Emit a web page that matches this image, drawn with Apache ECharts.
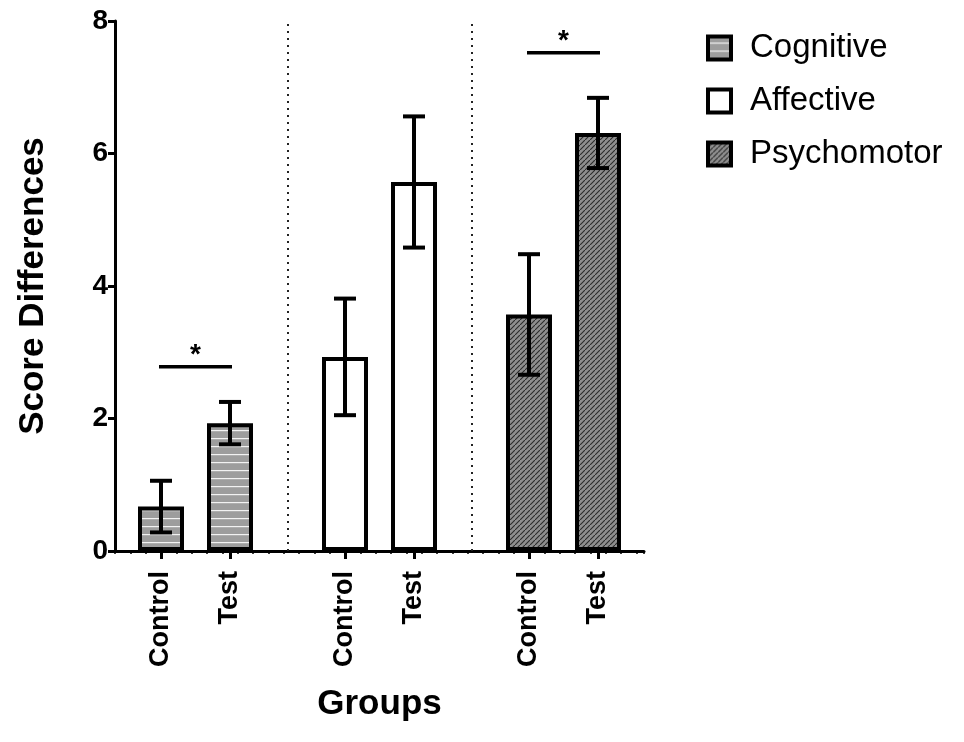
<!DOCTYPE html>
<html>
<head>
<meta charset="utf-8">
<script src="https://cdn.jsdelivr.net/npm/echarts@6/dist/echarts.min.js"></script>
<style>
html,body{margin:0;padding:0;background:#fff;}
#chart{width:964px;height:742px;}
</style>
</head>
<body>
<div id="chart"></div>
<script>
// ---- data ----
const groupLabels = ['Control', 'Test', 'Control', 'Test', 'Control', 'Test'];
const seriesNames = ['Cognitive', 'Affective', 'Psychomotor'];
const cognitiveMean = [0.67, 1.93];
const cognitiveErr = [0.39, 0.32];
const affectiveMean = [2.93, 5.57];
const affectiveErr = [0.88, 0.99];
const psychomotorMean = [3.57, 6.31];
const psychomotorErr = [0.91, 0.53];
const sigLevels = [2.78, 7.52]; // Cognitive, Psychomotor significance bars
const yTicks = [0, 2, 4, 6, 8];

// ---- layout (slot positions on the x scale) ----
const slots = [2, 5, 10, 13, 18, 21];
const separators = [7.5, 15.5];
const FONT = 'Liberation Sans, Arial, Helvetica, sans-serif';

function makeHStripe() {
  const c = document.createElement('canvas');
  c.width = 8; c.height = 8;
  const g = c.getContext('2d');
  g.fillStyle = '#9d9d9d'; g.fillRect(0, 0, 8, 8);
  g.fillStyle = '#f2f2f2'; g.fillRect(0, 6, 8, 1.2);
  return c;
}
function makeDiag() {
  const s = 5;
  const c = document.createElement('canvas');
  c.width = s; c.height = s;
  const g = c.getContext('2d');
  g.fillStyle = '#8e8e8e'; g.fillRect(0, 0, s, s);
  g.strokeStyle = '#2b2b2b'; g.lineWidth = 1.1;
  g.beginPath();
  g.moveTo(-1, s + 1); g.lineTo(s + 1, -1);
  g.moveTo(-2, 1); g.lineTo(1, -2);
  g.moveTo(s - 1, s + 2); g.lineTo(s + 2, s - 1);
  g.stroke();
  return c;
}

const fills = [
  { image: makeHStripe(), repeat: 'repeat' },
  '#ffffff',
  { image: makeDiag(), repeat: 'repeat' }
];
const means = [cognitiveMean, affectiveMean, psychomotorMean];
const errs = [cognitiveErr, affectiveErr, psychomotorErr];

const labelMap = {};
slots.forEach((s, i) => { labelMap[s] = groupLabels[i]; });

const series = [];
seriesNames.forEach((name, gi) => {
  series.push({
    name: name,
    type: 'bar',
    xAxisIndex: 0,
    barWidth: 46,
    barGap: '-100%',
    z: 2,
    itemStyle: { color: fills[gi], borderColor: '#000', borderWidth: 4 },
    data: means[gi].map((m, k) => [slots[gi * 2 + k], m]),
    markLine: gi === 0 ? {
      silent: true, symbol: 'none', animation: false,
      label: { show: false },
      lineStyle: { color: '#222', width: 2, type: [2, 5] },
      data: separators.map(s => [{ coord: [s, 0] }, { coord: [s, 8] }])
    } : undefined
  });
});

const errData = [];
seriesNames.forEach((name, gi) => {
  means[gi].forEach((m, k) => {
    errData.push([slots[gi * 2 + k], m - errs[gi][k], m + errs[gi][k]]);
  });
});

series.push({
  type: 'custom',
  xAxisIndex: 0,
  z: 5,
  data: errData,
  renderItem: function (params, api) {
    const x = api.value(0);
    const top = api.coord([x, api.value(2)]);
    const bot = api.coord([x, api.value(1)]);
    const cap = 11;
    const st = { stroke: '#000', lineWidth: 4 };
    return {
      type: 'group',
      children: [
        { type: 'line', shape: { x1: top[0], y1: top[1], x2: bot[0], y2: bot[1] }, style: st },
        { type: 'line', shape: { x1: top[0] - cap, y1: top[1], x2: top[0] + cap, y2: top[1] }, style: st },
        { type: 'line', shape: { x1: bot[0] - cap, y1: bot[1], x2: bot[0] + cap, y2: bot[1] }, style: st }
      ]
    };
  }
});

const sigData = [
  [slots[0], slots[1], sigLevels[0]],
  [slots[4], slots[5], sigLevels[1]]
];
series.push({
  type: 'custom',
  xAxisIndex: 0,
  z: 5,
  data: sigData,
  renderItem: function (params, api) {
    const a = api.coord([api.value(0), api.value(2)]);
    const b = api.coord([api.value(1), api.value(2)]);
    return {
      type: 'group',
      children: [
        { type: 'line', shape: { x1: a[0] - 2, y1: a[1], x2: b[0] + 2, y2: b[1] }, style: { stroke: '#000', lineWidth: 3.5 } },
        { type: 'text', style: { x: (a[0] + b[0]) / 2, y: a[1] + 2, text: '*', fill: '#000',
          font: 'bold 28px ' + FONT, align: 'center', verticalAlign: 'bottom' } }
      ]
    };
  }
});

const chart = echarts.init(document.getElementById('chart'), null, { renderer: 'canvas' });
chart.setOption({
  animation: false,
  backgroundColor: '#fff',
  grid: { left: 115, right: 320, top: 21, bottom: 191, containLabel: false },
  legend: {
    data: seriesNames,
    orient: 'vertical',
    left: 706,
    top: 31,
    padding: 0,
    icon: 'rect',
    itemWidth: 23,
    itemHeight: 23,
    itemGap: 19,
    itemStyle: { borderColor: '#000', borderWidth: 4 },
    textStyle: { fontFamily: FONT, fontSize: 33, color: '#000', lineHeight: 34, padding: [0, 0, 0, 14] }
  },
  xAxis: [
    {
      type: 'value',
      min: 0, max: 23,
      name: 'Groups',
      nameLocation: 'middle',
      nameGap: 136,
      nameTextStyle: { fontFamily: FONT, fontSize: 35, fontWeight: 'bold', color: '#000' },
      axisLine: { show: true, lineStyle: { color: '#000', width: 3 } },
      axisTick: { show: true, length: 8, lineStyle: { color: '#000', width: 3 }, customValues: slots },
      axisLabel: {
        show: true, rotate: 90, margin: 20,
        customValues: slots,
        formatter: v => labelMap[v] || '',
        fontFamily: FONT, fontSize: 27, fontWeight: 'bold', color: '#000'
      },
      splitLine: { show: false }
    },
    {
      type: 'value',
      position: 'bottom',
      min: 0, max: 69, interval: 2,
      axisLine: { show: false },
      axisTick: { show: true, length: 3, lineStyle: { color: '#000', width: 1.5 } },
      axisLabel: { show: false },
      splitLine: { show: false }
    }
  ],
  yAxis: {
    type: 'value',
    min: yTicks[0], max: yTicks[yTicks.length - 1], interval: 2,
    name: 'Score Differences',
    nameLocation: 'middle',
    nameRotate: 90,
    nameGap: 64,
    nameTextStyle: { fontFamily: FONT, fontSize: 35, fontWeight: 'bold', color: '#000' },
    axisLine: { show: true, lineStyle: { color: '#000', width: 3 } },
    axisTick: { show: true, length: 7, lineStyle: { color: '#000', width: 3 } },
    axisLabel: { fontFamily: FONT, fontSize: 28, fontWeight: 'bold', color: '#000', margin: 7 },
    splitLine: { show: false }
  },
  series: series
});
</script>
</body>
</html>
